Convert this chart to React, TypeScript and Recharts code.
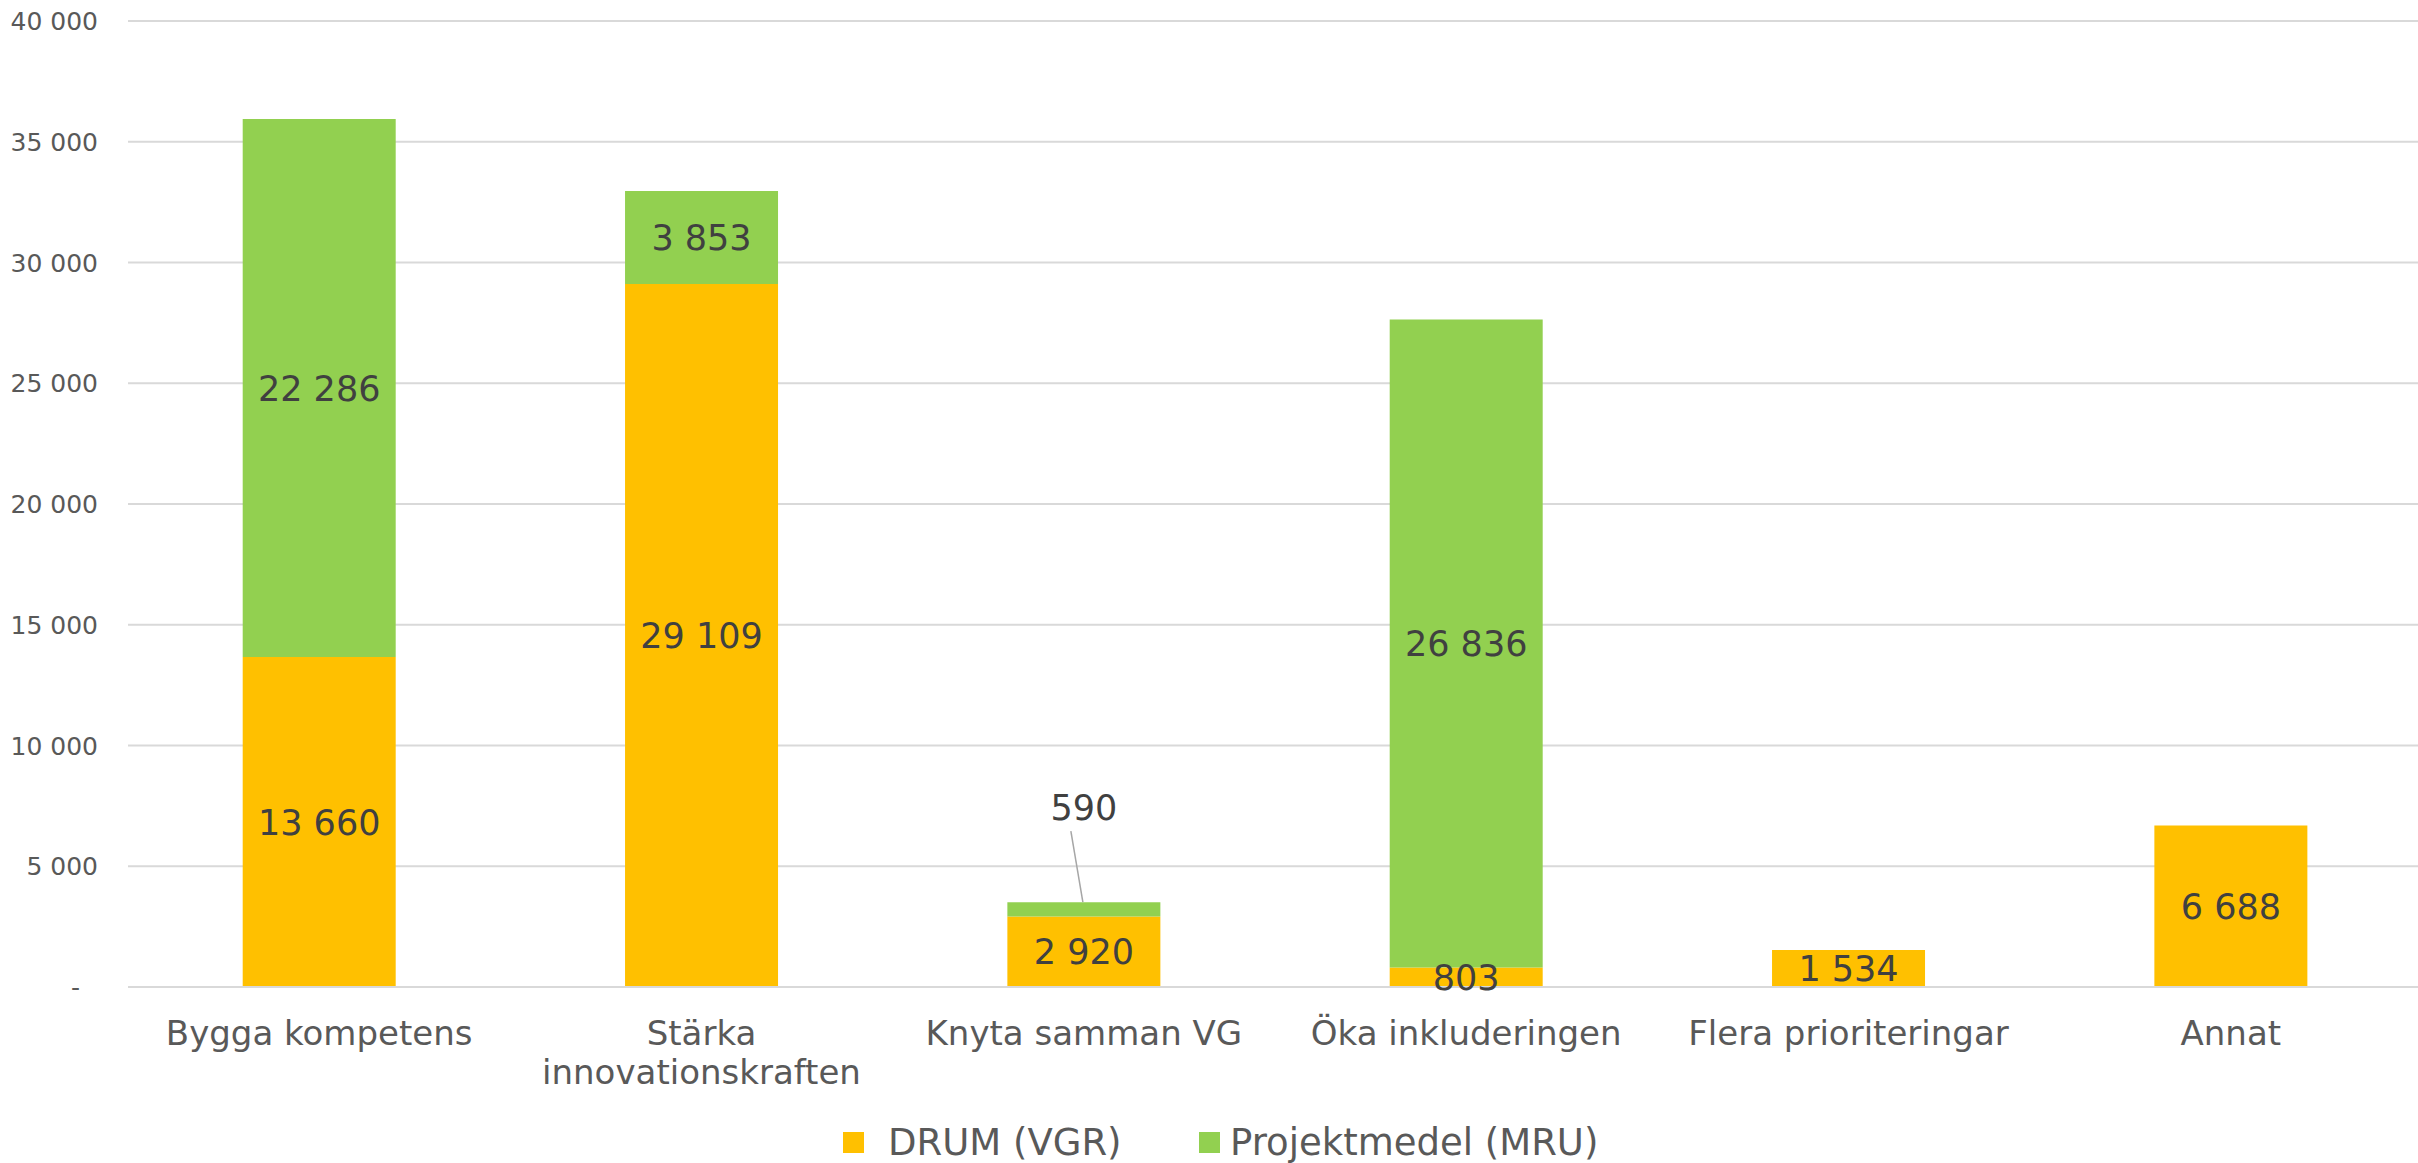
import React from "react";
import { BarChart, Bar, XAxis, YAxis, CartesianGrid, Legend, LabelList } from "recharts";

// Values
const categories = [
  "Bygga kompetens",
  "Stärka innovationskraften",
  "Knyta samman VG",
  "Öka inkluderingen",
  "Flera prioriteringar",
  "Annat",
];
const drumValues = [13660, 29109, 2920, 803, 1534, 6688];
const projektValues: (number | null)[] = [22286, 3853, 590, 26836, null, null];
const yTicks = [0, 5000, 10000, 15000, 20000, 25000, 30000, 35000, 40000];

const seriesNames = { drum: "DRUM (VGR)", projekt: "Projektmedel (MRU)" };
const YELLOW = "#FFC000";
const GREEN = "#92D050";
const FONT = "'DejaVu Sans', Verdana, sans-serif";

const data = categories.map((name, i) => ({
  name,
  drum: drumValues[i],
  projekt: projektValues[i],
}));

const fmt = (n: number) => String(n).replace(/\B(?=(\d{3})+(?!\d))/g, " ");

// rough wrap, like Excel does when a label is wider than its category
const wrap = (text: string, maxPx: number, fontSize: number) => {
  const words = text.split(" ");
  const lines: string[] = [];
  let cur = "";
  words.forEach((w) => {
    const next = cur ? cur + " " + w : w;
    if (cur && next.length * fontSize * 0.58 > maxPx) {
      lines.push(cur);
      cur = w;
    } else cur = next;
  });
  if (cur) lines.push(cur);
  return lines;
};

const XTick = (props: any) => {
  const { x, y, payload } = props;
  const lines = wrap(payload.value, 420, 34);
  return (
    <text x={x} y={y} textAnchor="middle" fill="#595959" fontSize={34} fontFamily={FONT}>
      {lines.map((l, i) => (
        <tspan key={i} x={x} dy={i === 0 ? 50 : 39}>
          {l}
        </tspan>
      ))}
    </text>
  );
};

const YTick = (props: any) => {
  const { x, y, payload } = props;
  const v = payload.value;
  return (
    <text
      x={v === 0 ? x - 18 : x}
      y={y}
      dy="0.36em"
      textAnchor="end"
      fill="#595959"
      fontSize={25}
      fontFamily={FONT}
    >
      {v === 0 ? "-" : fmt(v)}
    </text>
  );
};

const makeLabel = (leaderWhenSmall: boolean) => (props: any) => {
  const vb = props.viewBox || props;
  const { x, y, width, height } = vb;
  const value = props.value;
  if (value == null || value === 0) return null;
  const cx = x + width / 2;
  if (leaderWhenSmall && height < 30) {
    return (
      <g>
        <line x1={cx - 13} y1={y - 71} x2={cx - 1} y2={y} stroke="#A6A6A6" strokeWidth={1.5} />
        <text x={cx} y={y - 95} dy="0.36em" textAnchor="middle" fill="#404040" fontSize={35} fontFamily={FONT}>
          {fmt(value)}
        </text>
      </g>
    );
  }
  return (
    <text x={cx} y={y + height / 2} dy="0.36em" textAnchor="middle" fill="#404040" fontSize={35} fontFamily={FONT}>
      {fmt(value)}
    </text>
  );
};

const LegendContent = () => {
  const items = [
    { label: seriesNames.drum, color: YELLOW, x: 843, tx: 888 },
    { label: seriesNames.projekt, color: GREEN, x: 1199, tx: 1230 },
  ];
  return (
    <svg width={2418} height={76} style={{ display: "block" }}>
      {items.map((it) => (
        <g key={it.label}>
          <rect x={it.x} y={45} width={21} height={21} fill={it.color} />
          <text x={it.tx} y={68} fill="#595959" fontSize={37} fontFamily={FONT}>
            {it.label}
          </text>
        </g>
      ))}
    </svg>
  );
};

export default function App() {
  return (
    <div
      style={{
        position: "absolute",
        left: 0,
        top: 0,
        width: 2418,
        height: 1163,
        overflow: "hidden",
        background: "#fff",
        fontFamily: FONT,
      }}
    >
      <BarChart width={2422} height={1163} data={data} margin={{ top: 21, right: 0, left: 0, bottom: 0 }} barCategoryGap="30%">
        <CartesianGrid vertical={false} stroke="#D9D9D9" strokeWidth={2} />
        <XAxis
          dataKey="name"
          height={100}
          tick={<XTick />}
          tickLine={false}
          axisLine={{ stroke: "#D9D9D9", strokeWidth: 2 }}
          interval={0}
        />
        <YAxis
          width={128}
          domain={[0, 40000]}
          ticks={yTicks}
          tick={<YTick />}
          tickLine={false}
          axisLine={false}
          tickMargin={24}
        />
        <Legend verticalAlign="bottom" height={76} content={<LegendContent />} />
        <Bar dataKey="drum" name={seriesNames.drum} stackId="a" fill={YELLOW} isAnimationActive={false}>
          <LabelList dataKey="drum" content={makeLabel(false)} />
        </Bar>
        <Bar dataKey="projekt" name={seriesNames.projekt} stackId="a" fill={GREEN} isAnimationActive={false}>
          <LabelList dataKey="projekt" content={makeLabel(true)} />
        </Bar>
      </BarChart>
    </div>
  );
}
